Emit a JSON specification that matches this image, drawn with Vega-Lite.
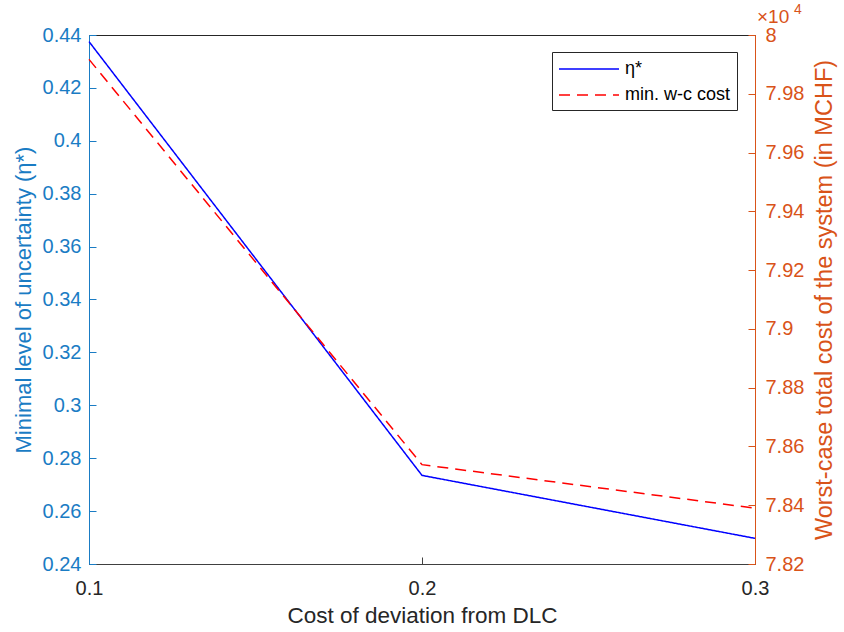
{
  "$schema": "https://vega.github.io/schema/vega-lite/v6.json",
  "width": 666,
  "height": 529,
  "autosize": {"type": "none"},
  "padding": {"left": 89, "top": 35, "right": 89, "bottom": 68},
  "background": "white",
  "data": {
    "values": [
      {"x": 0.1, "value": 0.4375, "series": "η*"},
      {"x": 0.2, "value": 0.2735, "series": "η*"},
      {"x": 0.3, "value": 0.2497, "series": "η*"},
      {"x": 0.1, "value": 79917, "series": "min. w-c cost"},
      {"x": 0.2, "value": 78538, "series": "min. w-c cost"},
      {"x": 0.3, "value": 78390, "series": "min. w-c cost"}
    ]
  },
  "encoding": {
    "x": {
      "field": "x",
      "type": "quantitative",
      "scale": {"domain": [0.1, 0.3], "nice": false, "zero": false},
      "axis": {
        "title": "Cost of deviation from DLC",
        "values": [0.1, 0.2, 0.3],
        "format": "~g",
        "labelFlush": false,
        "labelFontSize": 20,
        "titleFontSize": 22.5,
        "labelColor": "#262626",
        "titleColor": "#262626",
        "domainColor": "#404040",
        "tickColor": "#404040",
        "tickSize": -7,
        "labelPadding": 21,
        "titlePadding": 6
      }
    }
  },
  "layer": [
    {
      "transform": [{"filter": "datum.series === 'η*'"}],
      "mark": {"type": "line", "strokeWidth": 1.5},
      "encoding": {
        "y": {
          "field": "value",
          "type": "quantitative",
          "scale": {"domain": [0.24, 0.44], "nice": false, "zero": false},
          "axis": {
            "orient": "left",
            "title": "Minimal level of uncertainty (η*)",
            "values": [0.24, 0.26, 0.28, 0.3, 0.32, 0.34, 0.36, 0.38, 0.4, 0.42, 0.44],
            "format": "~g",
            "labelFontSize": 20,
            "titleFontSize": 22,
            "labelColor": "#1a7cc4",
            "titleColor": "#1a7cc4",
            "domainColor": "#1a7cc4",
            "tickColor": "#1a7cc4",
            "tickSize": -7,
            "labelPadding": 15,
            "titlePadding": 7
          }
        },
        "color": {
          "field": "series",
          "type": "nominal",
          "scale": {"domain": ["η*", "min. w-c cost"], "range": ["#0000ff", "#ff0000"]},
          "legend": {"title": null}
        },
        "strokeDash": {
          "field": "series",
          "type": "nominal",
          "scale": {"domain": ["η*", "min. w-c cost"], "range": [[1, 0], [11, 7]]},
          "legend": {"title": null}
        }
      }
    },
    {
      "layer": [
        {
          "transform": [{"filter": "datum.series === 'min. w-c cost'"}],
          "mark": {"type": "line", "strokeWidth": 1.5},
          "encoding": {
            "y": {
              "field": "value",
              "type": "quantitative",
              "scale": {"domain": [78200, 80000], "nice": false, "zero": false},
              "axis": {
                "orient": "right",
                "title": "Worst-case total cost of the system (in MCHF)",
                "values": [78200, 78400, 78600, 78800, 79000, 79200, 79400, 79600, 79800, 80000],
                "labelExpr": "format(datum.value / 10000, '~g')",
                "labelFontSize": 20,
                "titleFontSize": 23.5,
                "labelColor": "#d95319",
                "titleColor": "#d95319",
                "domainColor": "#d95319",
                "tickColor": "#d95319",
                "tickSize": -7,
                "labelPadding": 17,
                "titlePadding": 9,
                "titleAngle": -90,
                "titleBaseline": "top"
              }
            },
            "color": {
              "field": "series",
              "type": "nominal",
              "scale": {"domain": ["η*", "min. w-c cost"], "range": ["#0000ff", "#ff0000"]},
              "legend": {"title": null}
            },
            "strokeDash": {
              "field": "series",
              "type": "nominal",
              "scale": {"domain": ["η*", "min. w-c cost"], "range": [[1, 0], [11, 7]]},
              "legend": {"title": null}
            }
          }
        },
        {
          "transform": [{"filter": "datum.series === 'min. w-c cost' && datum.x === 0.3"}],
          "mark": {"type": "text", "text": "×10", "align": "left", "baseline": "alphabetic", "dx": 2, "dy": -12, "font": "Liberation Sans"},
          "encoding": {
            "x": {"datum": 0.3},
            "y": {"datum": 80000},
            "size": {"value": 19},
            "color": {"value": "#d95319"}
          }
        },
        {
          "transform": [{"filter": "datum.series === 'min. w-c cost' && datum.x === 0.3"}],
          "mark": {"type": "text", "text": "4", "align": "left", "baseline": "alphabetic", "dx": 39, "dy": -21, "font": "Liberation Sans"},
          "encoding": {
            "x": {"datum": 0.3},
            "y": {"datum": 80000},
            "size": {"value": 14},
            "color": {"value": "#d95319"}
          }
        }
      ]
    }
  ],
  "resolve": {"scale": {"y": "independent"}, "axis": {"y": "independent"}},
  "config": {
    "font": "Liberation Sans",
    "view": {"stroke": "#262626", "strokeWidth": 1},
    "axis": {"grid": false, "titleFontWeight": "normal", "labelFont": "Liberation Sans", "titleFont": "Liberation Sans"},
    "legend": {
      "orient": "none",
      "legendX": 463,
      "legendY": 17,
      "strokeColor": "#262626",
      "fillColor": "white",
      "padding": 6,
      "symbolType": "M-1,0H5",
      "symbolSize": 400,
      "symbolStrokeWidth": 1.5,
      "labelFontSize": 18,
      "labelFont": "Liberation Sans",
      "labelColor": "#000000",
      "labelOffset": 45,
      "rowPadding": 6,
      "cornerRadius": 0
    }
  }
}
